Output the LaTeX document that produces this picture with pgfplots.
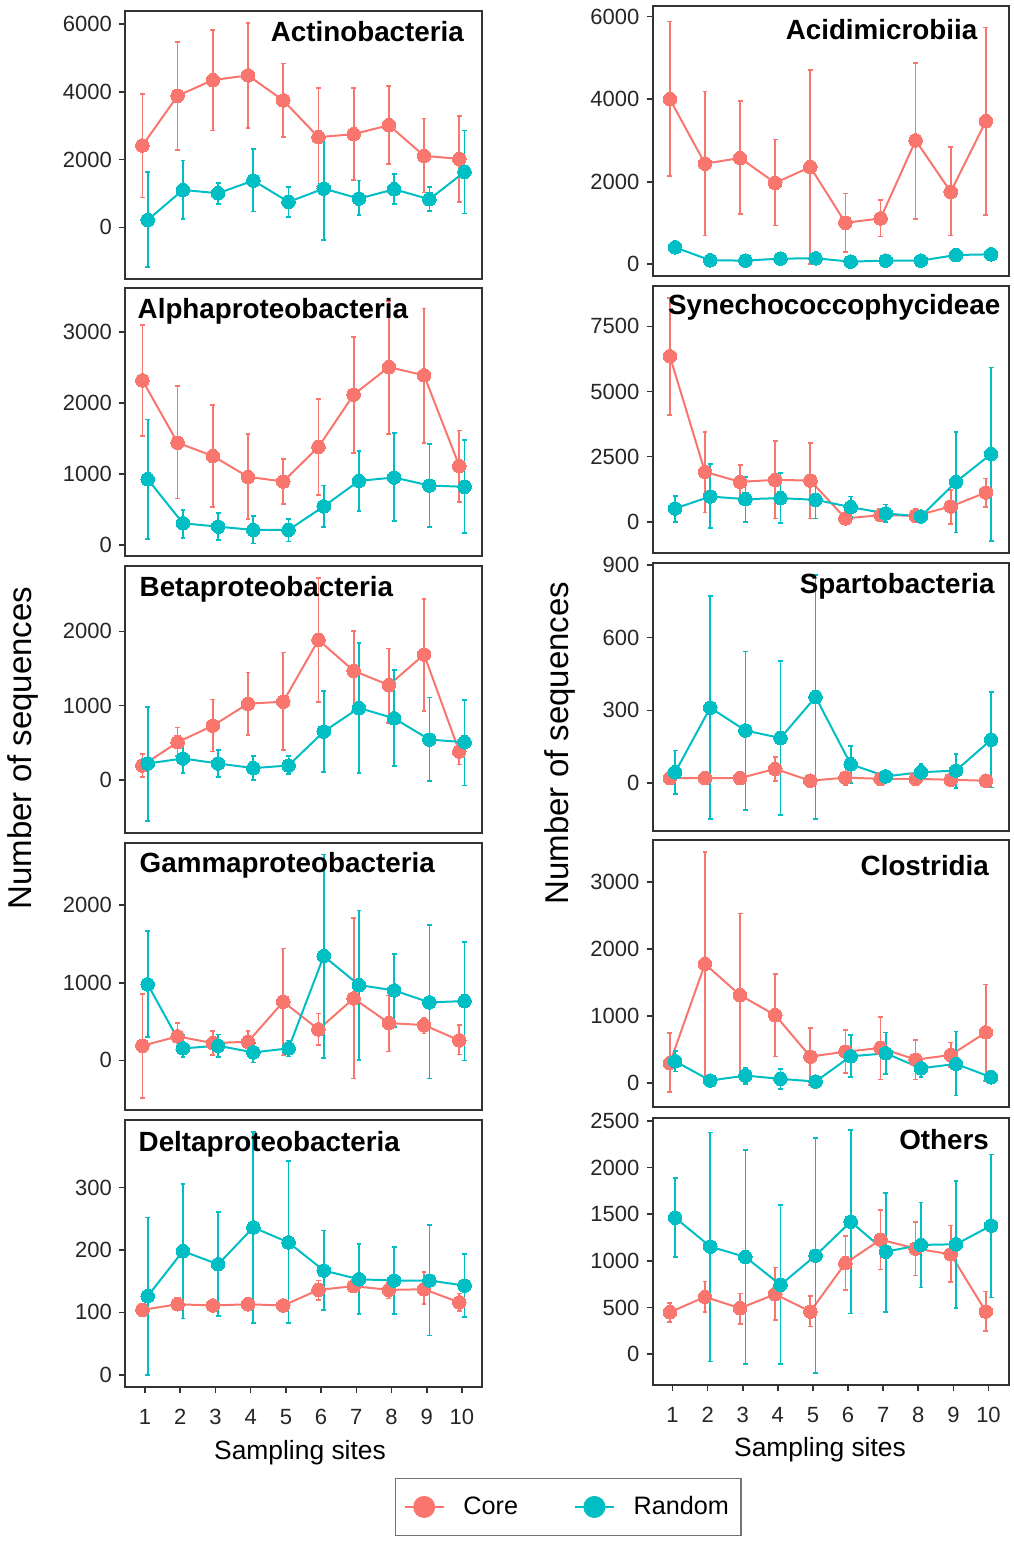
\documentclass[border=0pt]{standalone}
\usepackage{fontspec}
\setmainfont{Liberation Sans}
\usepackage{pgfplots}
\pgfplotsset{compat=1.18}
\usepackage{pgfplotstable}
\definecolor{coreC}{HTML}{F8766D}
\definecolor{randC}{HTML}{00BFC4}
\definecolor{frameC}{HTML}{333333}

% ---------------- data: x  mean  lower  upper ----------------
\pgfplotstableread{
x y lo hi
1 2414 877 3941
2 3882 2276 5478
3 4345 2857 5833
4 4483 2936 6030
5 3744 2670 4837
6 2660 1200 4118
7 2749 1399 4108
8 3015 1872 4177
9 2108 1025 3212
10 2020 749 3291
}\actC
\pgfplotstableread{
x y lo hi
1 217 -1163 1626
2 1103 246 1970
3 1005 680 1300
4 1379 463 2305
5 749 305 1192
6 1143 -374 2680
7 847 365 1379
8 1123 690 1576
9 828 473 1182
10 1635 404 2857
}\actR
\pgfplotstableread{
x y lo hi
1 2318 1533 3098
2 1439 654 2238
3 1252 537 1967
4 958 360 1565
5 893 579 1210
6 1379 706 2051
7 2117 1299 2925
8 2505 1561 3439
9 2388 1439 3332
10 1112 603 1612
}\alpC
\pgfplotstableread{
x y lo hi
1 925 84 1766
2 304 98 495
3 257 70 449
4 210 19 411
5 210 47 369
6 542 252 836
7 902 477 1322
8 949 332 1579
9 836 252 1421
10 818 164 1477
}\alpR
\pgfplotstableread{
x y lo hi
1 196 45 348
2 509 321 705
3 732 384 1085
4 1027 607 1446
5 1054 402 1714
6 1884 1049 2719
7 1469 929 2000
8 1277 772 1768
9 1688 933 2438
10 384 210 545
}\betC
\pgfplotstableread{
x y lo hi
1 223 -549 982
2 290 98 500
3 223 45 402
4 161 0 321
5 196 80 321
6 652 107 1201
7 969 94 1839
8 830 188 1482
9 545 -13 1112
10 509 -71 1080
}\betR
\pgfplotstableread{
x y lo hi
1 189 -481 858
2 309 142 485
3 223 69 378
4 240 99 378
5 755 64 1442
6 399 197 605
7 798 -232 1837
8 481 116 837
9 455 348 549
10 258 77 455
}\gamC
\pgfplotstableread{
x y lo hi
1 979 300 1665
2 155 43 335
3 189 43 335
4 103 -26 227
5 155 52 258
6 1343 34 2652
7 970 9 1931
8 901 429 1373
9 747 -232 1742
10 764 0 1524
}\gamR
\pgfplotstableread{
x y lo hi
1 104 99 110
2 113 107 118
3 111 106 116
4 113 108 118
5 111 106 116
6 136 120 151
7 142 134 148
8 136 122 147
9 137 113 165
10 116 102 130
}\delC
\pgfplotstableread{
x y lo hi
1 126 0 252
2 198 90 305
3 177 94 261
4 236 83 389
5 212 83 342
6 167 104 231
7 153 97 210
8 151 97 205
9 151 63 240
10 143 93 193
}\delR
\pgfplotstableread{
x y lo hi
1 4000 2133 5883
2 2439 700 4185
3 2575 1215 3960
4 1972 942 3026
5 2358 0 4716
6 1006 306 1714
7 1111 676 1553
8 3002 1103 4885
9 1755 700 2841
10 3469 1191 5738
}\acdC
\pgfplotstableread{
x y lo hi
1 410 380 440
2 97 70 124
3 89 62 116
4 137 110 164
5 145 115 175
6 64 40 88
7 89 62 116
8 89 62 116
9 225 89 346
10 241 211 271
}\acdR
\pgfplotstableread{
x y lo hi
1 6352 4107 8580
2 1913 357 3444
3 1531 931 2168
4 1607 128 3087
5 1582 128 3036
6 128 0 306
7 255 77 421
8 230 0 485
9 587 -77 1224
10 1122 561 1658
}\synC
\pgfplotstableread{
x y lo hi
1 510 0 995
2 969 -230 2207
3 867 0 1709
4 906 -51 1862
5 842 128 1505
6 561 191 969
7 319 0 663
8 204 38 357
9 1531 -408 3444
10 2602 -740 5918
}\synR
\pgfplotstableread{
x y lo hi
1 21 15 27
2 21 15 27
3 21 15 27
4 59 10 107
5 10 4 16
6 23 -7 41
7 18 12 24
8 18 12 24
9 14 8 20
10 10 4 16
}\spaC
\pgfplotstableread{
x y lo hi
1 45 -45 135
2 311 -147 771
3 217 -111 543
4 186 -131 504
5 355 -147 859
6 78 0 154
7 28 20 34
8 45 20 80
9 52 -21 121
10 179 -18 375
}\spaR
\pgfplotstableread{
x y lo hi
1 297 -139 744
2 1775 10 3441
3 1309 80 2528
4 1011 392 1621
5 392 -30 823
6 466 144 793
7 521 50 987
8 347 50 640
9 416 233 605
10 754 30 1468
}\cloC
\pgfplotstableread{
x y lo hi
1 322 169 481
2 35 20 50
3 109 -15 218
4 60 -89 208
5 20 5 35
6 397 84 714
7 441 134 754
8 218 84 322
9 283 -188 768
10 84 69 99
}\cloR
\pgfplotstableread{
x y lo hi
1 449 342 549
2 613 449 777
3 492 325 649
4 642 364 927
5 456 296 621
6 974 685 1266
7 1227 906 1548
8 1131 842 1419
9 1070 770 1377
10 456 250 670
}\othC
\pgfplotstableread{
x y lo hi
1 1462 1041 1890
2 1152 -78 2375
3 1041 -107 2186
4 742 -107 1601
5 1056 -203 2318
6 1419 435 2404
7 1098 449 1730
8 1170 713 1626
9 1177 492 1858
10 1377 606 2140
}\othR

\pgfplotsset{
  panel/.style={
    scale only axis,
    xmin=0.43, xmax=10.57,
    axis line style={frameC, line width=1pt},
    tick style={frameC, line width=0.8pt},
    tick align=outside,
    major tick length=3pt,
    xtick=\empty,
    ytick pos=left,
    xtick pos=bottom,
    scaled y ticks=false,
    /pgf/number format/assume math mode=true,
    /pgf/number format/set thousands separator={},
    ticklabel style={font=\fontsize{11}{13}\selectfont, text=black!85},
    xticklabel style={yshift=-4.5pt},
  },
  leftp/.style={panel, at={(62.5pt,-#1)}, anchor=south west, width=178.5pt, height=133.5pt},
  rightp/.style={panel, at={(326.25pt,-#1)}, anchor=south west, width=178pt, height=133.5pt},
  bottomp/.style={xtick={1,...,10}},
  coreS/.style={color=coreC, line width=1pt, mark=*, mark size=3.4pt,
    mark options={line width=0pt, fill=coreC},
    error bars/.cd, y dir=both, y explicit, error mark=-,
    error bar style={line width=0.85pt, color=coreC},
    error mark options={rotate=90, line width=0.85pt, mark size=1.2pt, color=coreC}},
  randS/.style={color=randC, line width=1pt, mark=*, mark size=3.4pt,
    mark options={line width=0pt, fill=randC},
    error bars/.cd, y dir=both, y explicit, error mark=-,
    error bar style={line width=0.85pt, color=randC},
    error mark options={rotate=90, line width=0.85pt, mark size=1.2pt, color=randC}},
}
\newcommand{\coreplot}[1]{\addplot[coreS] table[x expr=\thisrow{x}-0.075, y=y,
  y error plus expr=\thisrow{hi}-\thisrow{y}, y error minus expr=\thisrow{y}-\thisrow{lo}] {#1};}
\newcommand{\randplot}[1]{\addplot[randS] table[x expr=\thisrow{x}+0.075, y=y,
  y error plus expr=\thisrow{hi}-\thisrow{y}, y error minus expr=\thisrow{y}-\thisrow{lo}] {#1};}

\newcommand{\ttl}{\fontsize{13.9}{15}\selectfont\bfseries}

\begin{document}
\begin{tikzpicture}
\path[use as bounding box] (0pt,0pt) rectangle (506.5pt,-771pt);

% ---------- left column ----------
\begin{axis}[leftp=139.25pt, ymin=-1511, ymax=6369, ytick={0,2000,4000,6000}]
\coreplot{\actC}\randplot{\actR}
\end{axis}
\begin{axis}[leftp=277.75pt, ymin=-150, ymax=3612, ytick={0,1000,2000,3000}]
\coreplot{\alpC}\randplot{\alpR}
\end{axis}
\begin{axis}[leftp=416.25pt, ymin=-705, ymax=2885, ytick={0,1000,2000}]
\coreplot{\betC}\randplot{\betR}
\end{axis}
\begin{axis}[leftp=554.75pt, ymin=-632, ymax=2805, ytick={0,1000,2000}]
\coreplot{\gamC}\randplot{\gamR}
\end{axis}
\begin{axis}[leftp=693.5pt, bottomp, ymin=-19.5, ymax=408, ytick={0,100,200,300}]
\coreplot{\delC}\randplot{\delR}
\end{axis}

% ---------- right column ----------
\begin{axis}[rightp=138pt, height=135pt, ymin=-284, ymax=6259, ytick={0,2000,4000,6000}]
\coreplot{\acdC}\randplot{\acdR}
\end{axis}
\begin{axis}[rightp=276.5pt, ymin=-1200, ymax=9050, ytick={0,2500,5000,7500}]
\coreplot{\synC}\randplot{\synR}
\end{axis}
\begin{axis}[rightp=415.25pt, ymin=-195, ymax=905, ytick={0,300,600,900}]
\coreplot{\spaC}\randplot{\spaR}
\end{axis}
\begin{axis}[rightp=553.5pt, ymin=-360, ymax=3625, ytick={0,1000,2000,3000}]
\coreplot{\cloC}\randplot{\cloR}
\end{axis}
\begin{axis}[rightp=692.5pt, bottomp, ymin=-331, ymax=2530, ytick={0,500,1000,1500,2000,2500},
  legend style={at={(-0.2362,-0.4567)}, anchor=center, draw=black!55, line width=0.6pt,
    fill=white, font=\fontsize{12.6}{15}\selectfont, inner xsep=4pt, inner ysep=7pt,
    /tikz/every odd column/.append style={column sep=7.5pt},
    /tikz/every even column/.append style={column sep=26pt}},
  legend columns=2, legend cell align=left,
  legend image code/.code={\draw[line width=0.8pt] (0pt,0pt) -- (19.5pt,0pt);
    \fill (9.75pt,0pt) circle (5pt);}]
\coreplot{\othC}\randplot{\othR}
\legend{Core,Random}
\end{axis}

% ---------- panel titles ----------
\node[anchor=base east, inner sep=0pt, font=\ttl] at (232.15pt,-20.85pt) {Actinobacteria};
\node[anchor=base west, inner sep=0pt, font=\ttl] at (68.65pt,-159.15pt) {Alphaproteobacteria};
\node[anchor=base west, inner sep=0pt, font=\ttl] at (69.65pt,-298pt) {Betaproteobacteria};
\node[anchor=base west, inner sep=0pt, font=\ttl] at (69.65pt,-436.35pt) {Gammaproteobacteria};
\node[anchor=base west, inner sep=0pt, font=\ttl] at (69.15pt,-575.85pt) {Deltaproteobacteria};
\node[anchor=base east, inner sep=0pt, font=\ttl] at (488.85pt,-19.65pt) {Acidimicrobiia};
\node[anchor=base east, inner sep=0pt, font=\ttl] at (500.35pt,-157.15pt) {Synechococcophycideae};
\node[anchor=base east, inner sep=0pt, font=\ttl] at (497.5pt,-296.65pt) {Spartobacteria};
\node[anchor=base east, inner sep=0pt, font=\ttl] at (494.65pt,-437.85pt) {Clostridia};
\node[anchor=base east, inner sep=0pt, font=\ttl] at (494.65pt,-574.65pt) {Others};

% ---------- axis titles ----------
\node[rotate=90, inner sep=0pt, font=\fontsize{16.5}{18}\selectfont] at (11.5pt,-374pt) {Number of sequences};
\node[rotate=90, inner sep=0pt, font=\fontsize{16.5}{18}\selectfont] at (280pt,-371.5pt) {Number of sequences};
\node[inner sep=0pt, font=\fontsize{13.2}{15}\selectfont] at (150pt,-726.5pt) {Sampling sites};
\node[inner sep=0pt, font=\fontsize{13.2}{15}\selectfont] at (410pt,-725pt) {Sampling sites};
\end{tikzpicture}
\end{document}
